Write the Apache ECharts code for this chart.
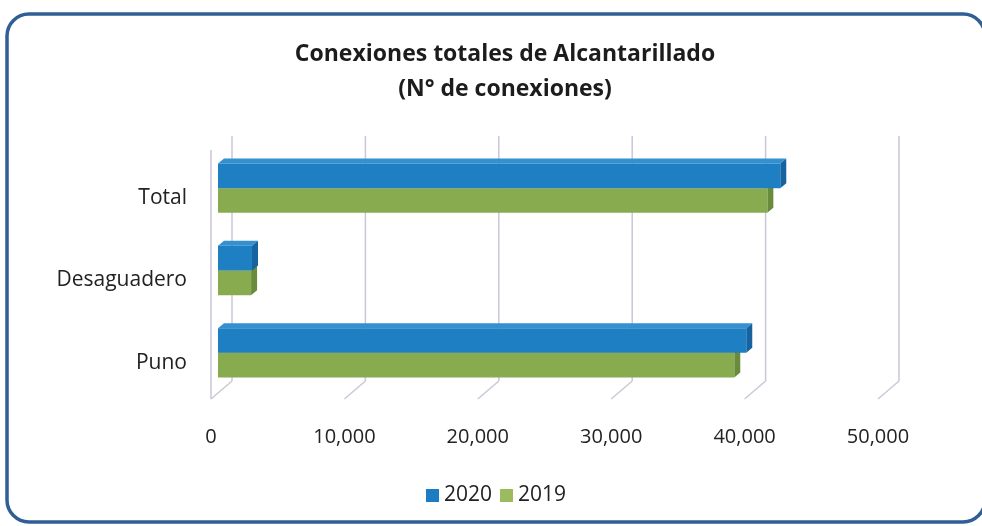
<!DOCTYPE html>
<html>
<head>
<meta charset="utf-8">
<title>Conexiones totales de Alcantarillado</title>
<script src="https://cdn.jsdelivr.net/npm/echarts@6/dist/echarts.min.js"></script>
<style>
  html, body { margin: 0; padding: 0; background: #fff; }
  #chart { width: 982px; height: 526px; }
</style>
</head>
<body>
<div id="chart"></div>
<script>
const categories = ["Puno", "Desaguadero", "Total"];
const data2020 = [39600, 2550, 42150];
const data2019 = [38700, 2480, 41180];
const xTicks = [0, 10000, 20000, 30000, 40000, 50000];

// 3D look: back wall offset, bar offset and bar depth
const wallDx = 21, wallDy = -18;
const barOx = 7, barOy = -5;
const barDx = 6, barDy = -5;

function barRenderer(upper, front, topFace, sideFace) {
  return function (params, api) {
    let cat = api.value(1);
    let start = api.coord([0, cat]);
    let end = api.coord([api.value(0), cat]);
    let h = api.size([0, 1])[1] * 0.3;
    let x0 = start[0] + barOx;
    let x1 = end[0] + barOx;
    let mid = start[1] + barOy;
    let yTop = upper ? mid - h : mid;
    let yBot = upper ? mid : mid + h;
    return {
      type: "group",
      children: [
        {
          type: "polygon",
          shape: { points: [[x0, yTop], [x1, yTop], [x1 + barDx, yTop + barDy], [x0 + barDx, yTop + barDy]] },
          style: { fill: topFace }
        },
        {
          type: "polygon",
          shape: { points: [[x1, yTop], [x1 + barDx, yTop + barDy], [x1 + barDx, yBot + barDy], [x1, yBot]] },
          style: { fill: sideFace }
        },
        {
          type: "rect",
          shape: { x: x0, y: yTop, width: x1 - x0, height: yBot - yTop },
          style: { fill: front }
        }
      ]
    };
  };
}

function wallRenderer(params, api) {
  let cs = params.coordSys;
  let v = api.value(0);
  let x = api.coord([v, 0])[0];
  let floorY = cs.y + cs.height;
  let lineStyle = { stroke: "#cbc7d9", lineWidth: 1.5 };
  let children = [
    {
      type: "line",
      shape: { x1: x + wallDx, y1: cs.y + wallDy + 2, x2: x + wallDx, y2: floorY + wallDy },
      style: lineStyle
    },
    {
      type: "line",
      shape: { x1: x, y1: floorY, x2: x + wallDx, y2: floorY + wallDy },
      style: lineStyle
    }
  ];
  if (v === 0) {
    children.push({
      type: "line",
      shape: { x1: x, y1: cs.y - 2, x2: x, y2: floorY },
      style: lineStyle
    });
  }
  return { type: "group", children: children };
}

let option = {
  backgroundColor: "#fff",
  animation: false,
  title: {
    text: "Conexiones totales de Alcantarillado\n(N° de conexiones)",
    left: 500,
    top: 32,
    textAlign: "center",
    textStyle: {
      fontFamily: "Open Sans",
      fontWeight: "bold",
      fontSize: 23,
      lineHeight: 35,
      color: "#1c1c1c"
    }
  },
  legend: {
    data: ["2020", "2019"],
    left: 421,
    top: 480,
    icon: "rect",
    itemWidth: 13,
    itemHeight: 13,
    itemGap: 8,
    textStyle: { fontFamily: "Open Sans", fontSize: 21, color: "#222" }
  },
  grid: {
    left: 211,
    right: 104,
    top: 152,
    bottom: 127
  },
  xAxis: {
    type: "value",
    min: 0,
    max: 50000,
    interval: 10000,
    axisLine: { show: false },
    axisTick: { show: false },
    splitLine: { show: false },
    axisLabel: {
      margin: 28,
      fontFamily: "Open Sans",
      fontSize: 20,
      color: "#222"
    }
  },
  yAxis: {
    type: "category",
    data: categories,
    axisLine: { show: false },
    axisTick: { show: false },
    axisLabel: {
      margin: 24,
      formatter: "{cat|{value}}",
      rich: {
        cat: {
          padding: [10, 0, 0, 0],
          fontFamily: "Open Sans",
          fontSize: 21,
          color: "#222"
        }
      }
    }
  },
  graphic: [
    {
      type: "rect",
      shape: { x: 7, y: 14, width: 978, height: 508, r: 22 },
      style: { fill: "none", stroke: "#2f5f95", lineWidth: 3.5 },
      z: 100
    }
  ],
  series: [
    {
      name: "walls",
      type: "custom",
      renderItem: wallRenderer,
      encode: { x: 0 },
      data: xTicks.map(v => [v]),
      silent: true,
      z: 1
    },
    {
      name: "2020",
      type: "custom",
      renderItem: barRenderer(true, "#1e7fc3", "#3590cf", "#1763a0"),
      itemStyle: { color: "#1e7dc2" },
      encode: { x: 0, y: 1 },
      data: data2020.map((v, i) => [v, i]),
      z: 3
    },
    {
      name: "2019",
      type: "custom",
      renderItem: barRenderer(false, "#88ab50", "#9cbd62", "#6a8b3c"),
      itemStyle: { color: "#9bbb5e" },
      encode: { x: 0, y: 1 },
      data: data2019.map((v, i) => [v, i]),
      z: 2
    }
  ]
};

function initChart() {
  let myChart = echarts.init(document.getElementById("chart"));
  myChart.setOption(option);
}
initChart();
</script>
</body>
</html>
